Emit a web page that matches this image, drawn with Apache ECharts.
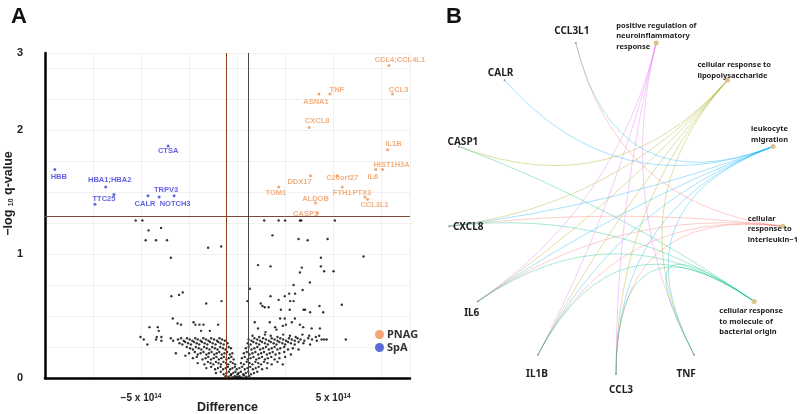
<!DOCTYPE html>
<html>
<head>
<meta charset="utf-8">
<title>Volcano + gene-concept network</title>
<script src="https://cdn.jsdelivr.net/npm/echarts@6/dist/echarts.min.js"></script>
<style>
  html, body { margin: 0; padding: 0; background: #fff; }
  #main { width: 800px; height: 414px; }
</style>
</head>
<body>
<div id="main"></div>
<script>
  // ---- panel A : volcano (difference in units of 1e14, -log10 q) ----
  const pnagGenes = ['CCL4;CCL4L1', 'TNF', 'ASNA1', 'CCL3', 'CXCL8', 'IL1B', 'IL6', 'HIST1H3A',
    'DDX17', 'C20orf27', 'TOM1', 'FTH1', 'PTX3', 'CCL3L1', 'ALDOB', 'CASP1']
  const pnagX = [7.9, 4.83, 4.26, 8.09, 3.75, 7.83, 7.22, 7.57, 3.82, 5.21, 2.17, 5.47, 6.65, 6.79, 4.08, 4.19]
  const pnagY = [2.52, 2.29, 2.29, 2.29, 2.02, 1.84, 1.68, 1.68, 1.63, 1.63, 1.54, 1.54, 1.46, 1.44, 1.41, 1.33]

  const spaGenes = ['CTSA', 'HBB', 'HBA1;HBA2', 'TTC25', '', 'CALR', 'TRPV3', 'NOTCH3']
  const spaX = [-3.59, -9.49, -6.84, -7.4, -6.41, -4.64, -4.06, -3.28]
  const spaY = [1.87, 1.68, 1.54, 1.4, 1.48, 1.47, 1.46, 1.47]

  const qThreshold = 1.3
  const diffThreshold = 0.56

  // non-significant genes
  const otherPoints = [
    [-5.28, 1.27], [-4.93, 1.27], [-4.61, 1.19], [-3.96, 1.21], [-4.76, 1.11], [-4.22, 1.11], [-3.65, 1.11],
    [-1.51, 1.05], [-0.83, 1.06], [-3.45, 0.97], [-3.42, 0.66], [-3.02, 0.67], [-2.83, 0.69], [-1.61, 0.6],
    [-0.81, 0.62], [-3.35, 0.48], [-3.1, 0.44], [-2.92, 0.43], [-2.27, 0.45], [-2.17, 0.43], [-1.96, 0.43],
    [-1.75, 0.43], [-0.99, 0.43], [-4.56, 0.41], [-4.13, 0.41], [-4.08, 0.38], [-1.88, 0.38], [-1.42, 0.38],
    [-5.03, 0.33], [-4.86, 0.31], [-4.67, 0.27], [-4.18, 0.33], [-3.94, 0.33], [-4.22, 0.31], [-3.94, 0.3],
    [-3.45, 0.32], [-3.33, 0.3], [-3.19, 0.2], [-2.69, 0.18],
    [1.41, 1.27], [2.16, 1.27], [2.5, 1.27], [3.27, 1.27], [3.34, 1.27], [5.09, 1.27], [1.84, 1.15],
    [3.2, 1.12], [3.67, 1.11], [4.71, 1.12], [6.58, 0.98], [4.36, 0.97], [1.09, 0.91], [1.74, 0.9],
    [3.37, 0.89], [4.36, 0.9], [4.53, 0.86], [5.02, 0.86], [3.27, 0.85], [3.79, 0.77], [2.94, 0.75],
    [0.66, 0.72], [3.02, 0.68], [3.41, 0.71], [1.74, 0.66], [2.16, 0.63], [2.48, 0.66], [2.71, 0.68],
    [2.76, 0.62], [2.94, 0.62], [0.54, 0.62], [1.23, 0.6], [1.32, 0.58], [1.44, 0.57], [1.64, 0.57],
    [4.29, 0.58], [5.45, 0.59], [2.28, 0.55], [2.74, 0.55], [3.46, 0.55], [3.54, 0.55], [4.48, 0.53],
    [3.8, 0.53], [0.92, 0.45], [1.7, 0.45], [2.24, 0.48], [2.48, 0.48], [3.01, 0.48], [2.85, 0.45],
    [1.09, 0.4], [1.48, 0.37], [1.98, 0.41], [2.05, 0.39], [2.38, 0.42], [2.54, 0.43], [3.27, 0.43],
    [3.44, 0.41], [3.88, 0.4], [4.31, 0.4], [4.27, 0.34], [4.53, 0.31], [4.66, 0.31], [5.66, 0.31], [2.38, 0.11],
    // left cloud
    [-3.08, 0.31], [-2.92, 0.32], [-2.78, 0.3], [-2.61, 0.32], [-2.47, 0.31], [-2.33, 0.3], [-2.18, 0.32],
    [-2.05, 0.31], [-1.9, 0.3], [-1.76, 0.32], [-1.62, 0.31], [-1.49, 0.3], [-1.35, 0.32], [-1.2, 0.31],
    [-1.05, 0.3], [-0.92, 0.32], [-0.78, 0.31], [-0.64, 0.3],
    [-3.0, 0.28], [-2.85, 0.27], [-2.7, 0.29], [-2.55, 0.28], [-2.4, 0.27], [-2.24, 0.29], [-2.1, 0.28],
    [-1.97, 0.27], [-1.83, 0.29], [-1.69, 0.28], [-1.55, 0.27], [-1.41, 0.29], [-1.27, 0.28], [-1.12, 0.27],
    [-0.98, 0.29], [-0.85, 0.28], [-0.7, 0.27], [-0.5, 0.28],
    [-2.62, 0.25], [-2.45, 0.24], [-2.3, 0.23], [-2.15, 0.25], [-2.0, 0.24], [-1.86, 0.23], [-1.72, 0.25],
    [-1.58, 0.24], [-1.44, 0.23], [-1.3, 0.25], [-1.16, 0.24], [-1.02, 0.23], [-0.88, 0.25], [-0.74, 0.24],
    [-0.6, 0.23], [-0.44, 0.25], [-0.32, 0.24],
    [-2.5, 0.2], [-2.2, 0.21], [-2.05, 0.19], [-1.9, 0.2], [-1.75, 0.21], [-1.6, 0.19], [-1.47, 0.2],
    [-1.33, 0.21], [-1.19, 0.19], [-1.06, 0.2], [-0.93, 0.21], [-0.8, 0.19], [-0.66, 0.2], [-0.52, 0.21],
    [-0.38, 0.19], [-0.25, 0.2],
    [-2.3, 0.16], [-2.1, 0.17], [-1.8, 0.15], [-1.64, 0.16], [-1.5, 0.17], [-1.36, 0.15], [-1.22, 0.16],
    [-1.08, 0.17], [-0.95, 0.15], [-0.82, 0.16], [-0.69, 0.17], [-0.56, 0.15], [-0.43, 0.16], [-0.3, 0.17],
    [-0.18, 0.15],
    [-2.05, 0.12], [-1.7, 0.11], [-1.52, 0.13], [-1.38, 0.12], [-1.24, 0.11], [-1.1, 0.13], [-0.97, 0.12],
    [-0.84, 0.11], [-0.71, 0.13], [-0.58, 0.12], [-0.46, 0.11], [-0.34, 0.13], [-0.22, 0.12], [-0.1, 0.11],
    [-1.6, 0.08], [-1.35, 0.09], [-1.15, 0.07], [-1.0, 0.08], [-0.86, 0.09], [-0.73, 0.07], [-0.6, 0.08],
    [-0.48, 0.09], [-0.36, 0.07], [-0.24, 0.08], [-0.12, 0.09], [-0.02, 0.07],
    [-1.1, 0.04], [-0.85, 0.05], [-0.7, 0.03], [-0.56, 0.04], [-0.43, 0.05], [-0.31, 0.03], [-0.2, 0.04],
    [-0.09, 0.05], [0.02, 0.03],
    [-0.6, 0.015], [-0.45, 0.01], [-0.33, 0.02], [-0.22, 0.005], [-0.12, 0.015], [-0.03, 0.01], [0.06, 0.005],
    // right cloud
    [0.8, 0.34], [1.15, 0.33], [1.45, 0.35], [1.75, 0.34], [2.1, 0.33], [2.4, 0.35], [2.75, 0.34],
    [3.05, 0.33], [3.4, 0.35], [3.75, 0.34], [4.1, 0.33],
    [0.6, 0.31], [0.75, 0.3], [0.9, 0.32], [1.05, 0.31], [1.2, 0.3], [1.35, 0.32], [1.5, 0.31], [1.65, 0.3],
    [1.8, 0.32], [1.95, 0.31], [2.1, 0.3], [2.25, 0.32], [2.4, 0.31], [2.55, 0.3], [2.7, 0.32], [2.85, 0.31],
    [3.0, 0.3], [3.15, 0.32], [3.3, 0.31], [3.5, 0.3], [3.7, 0.32], [3.9, 0.31], [4.15, 0.3], [4.4, 0.31],
    [0.55, 0.28], [0.7, 0.27], [0.85, 0.29], [1.0, 0.28], [1.15, 0.27], [1.3, 0.29], [1.45, 0.28], [1.6, 0.27],
    [1.75, 0.29], [1.9, 0.28], [2.05, 0.27], [2.2, 0.29], [2.35, 0.28], [2.5, 0.27], [2.65, 0.29], [2.8, 0.28],
    [3.0, 0.27], [3.2, 0.29], [3.45, 0.28], [3.8, 0.27],
    [0.45, 0.24], [0.6, 0.25], [0.75, 0.23], [0.9, 0.24], [1.05, 0.25], [1.2, 0.23], [1.35, 0.24], [1.5, 0.25],
    [1.65, 0.23], [1.8, 0.24], [1.95, 0.25], [2.1, 0.23], [2.25, 0.24], [2.45, 0.25], [2.65, 0.23], [2.9, 0.24],
    [3.2, 0.23],
    [0.35, 0.2], [0.5, 0.21], [0.65, 0.19], [0.8, 0.2], [0.95, 0.21], [1.1, 0.19], [1.25, 0.2], [1.4, 0.21],
    [1.55, 0.19], [1.7, 0.2], [1.85, 0.21], [2.0, 0.19], [2.2, 0.2], [2.45, 0.21], [2.8, 0.19],
    [0.25, 0.16], [0.4, 0.17], [0.55, 0.15], [0.7, 0.16], [0.85, 0.17], [1.0, 0.15], [1.15, 0.16], [1.3, 0.17],
    [1.45, 0.15], [1.6, 0.16], [1.78, 0.17], [1.95, 0.15], [2.2, 0.16], [2.5, 0.17],
    [0.2, 0.12], [0.35, 0.11], [0.5, 0.13], [0.65, 0.12], [0.8, 0.11], [0.95, 0.13], [1.1, 0.12], [1.25, 0.11],
    [1.4, 0.13], [1.58, 0.12], [1.8, 0.11], [2.1, 0.13],
    [0.12, 0.08], [0.26, 0.09], [0.4, 0.07], [0.54, 0.08], [0.68, 0.09], [0.82, 0.07], [0.97, 0.08],
    [1.12, 0.09], [1.3, 0.07], [1.55, 0.08],
    [0.08, 0.04], [0.2, 0.05], [0.32, 0.03], [0.45, 0.04], [0.58, 0.05], [0.72, 0.03], [0.88, 0.04], [1.05, 0.05],
    [0.12, 0.015], [0.22, 0.005], [0.35, 0.02], [0.48, 0.01], [0.62, 0.015]
  ]

  // ---- panel B : gene-concept network ----
  const terms = [
    'positive regulation of neuroinflammatory response',
    'cellular response to lipopolysaccharide',
    'leukocyte migration',
    'cellular response to interleukin−1',
    'cellular response to molecule of bacterial origin'
  ]
  const genes = ['TNF', 'CCL3', 'IL1B', 'IL6', 'CXCL8', 'CASP1', 'CALR', 'CCL3L1']
  const neuroGenes = ['TNF', 'CCL3', 'IL1B', 'IL6']
  const lpsGenes = ['TNF', 'CCL3', 'IL1B', 'IL6', 'CXCL8', 'CASP1']
  const leukGenes = ['TNF', 'CCL3', 'IL1B', 'IL6', 'CXCL8', 'CALR', 'CCL3L1']
  const il1Genes = ['CCL3', 'IL1B', 'IL6', 'CXCL8', 'CCL3L1']
  const bactGenes = ['TNF', 'CCL3', 'IL1B', 'IL6', 'CXCL8', 'CASP1']
  const termGeneSets = [neuroGenes, lpsGenes, leukGenes, il1Genes, bactGenes]

  // styles
  const termColors = ['#E76BF3', '#A3A500', '#00B0F6', '#F8766D', '#00BF7D']
  const termText = [
    'positive regulation of\nneuroinflammatory\nresponse',
    'cellular response to\nlipopolysaccharide',
    'leukocyte\nmigration',
    'cellular\nresponse to\ninterleukin−1',
    'cellular response\nto molecule of\nbacterial origin'
  ]
  const termOffsets = [[-40, -7], [-30, -10], [-22, -12], [-35, 3], [-35, 20]]
  const geneOffsets = {
    TNF: [-8, 19], CCL3: [5, 16], IL1B: [-1, 19], IL6: [-6, 12],
    CXCL8: [19, 1], CASP1: [4, -4], CALR: [-4, -7], CCL3L1: [-4, -12]
  }
  const pnagOffsets = {
    'CCL4;CCL4L1': [11, -5], TNF: [7, -4], ASNA1: [-3, 8], CCL3: [6, -4], CXCL8: [8, -6],
    IL1B: [6, -6], IL6: [-3, 7], HIST1H3A: [9, -5], DDX17: [-11, 6], C20orf27: [5, 2],
    TOM1: [-3, 6], FTH1: [0, 6], PTX3: [-3, -4], CCL3L1: [7, 6], ALDOB: [0, -4], CASP1: [-12, 1]
  }
  const spaOffsets = {
    CTSA: [0, 5], HBB: [4, 7], 'HBA1;HBA2': [4, -7], TTC25: [9, -5], CALR: [-3, 8],
    TRPV3: [7, -7], NOTCH3: [1, 8]
  }

  const ringOrder = terms.concat(genes)   // clockwise from the top
  const n = ringOrder.length
  const arcPull = 1   // 1 = control point of every edge at the ring centre

  const nodes = ringOrder.map((name, i) => {
    const isTerm = i < terms.length
    return {
      name: name,
      value: [1, i],
      symbolSize: isTerm ? 5 : 2,
      itemStyle: { color: isTerm ? '#DCC28E' : '#9a9a9a' },
      label: isTerm ? {
        show: true, position: 'inside', align: 'left', verticalAlign: 'middle',
        formatter: termText[i], offset: termOffsets[i],
        fontSize: 7.5, lineHeight: 10.5, fontWeight: 'bold', color: '#1e1e1e', fontFamily: 'Noto Sans'
      } : {
        show: true, position: 'inside', offset: geneOffsets[name],
        fontSize: 10, fontWeight: 'bold', color: '#1e1e1e', fontFamily: 'Noto Sans'
      }
    }
  })

  const links = []
  termGeneSets.forEach((set, t) => {
    set.forEach((g) => {
      const si = ringOrder.indexOf(g)
      const theta = (((t - si) % n + n) % n) * 2 * Math.PI / n
      links.push({
        source: g,
        target: terms[t],
        lineStyle: { color: termColors[t], curveness: -arcPull / (2 * Math.tan(theta / 2)) }
      })
    })
  })

  const chart = echarts.init(document.getElementById('main'))
  chart.setOption({
    animation: false,
    backgroundColor: '#fff',
    graphic: [
      { type: 'text', left: 11, top: 6, style: { text: 'A', font: 'bold 22px "Liberation Sans"', fill: '#111' } },
      { type: 'text', left: 446, top: 6, style: { text: 'B', font: 'bold 22px "Liberation Sans"', fill: '#111' } }
    ],
    legend: {
      data: ['PNAG', 'SpA'],
      orient: 'vertical',
      left: 370,
      top: 323,
      itemGap: 0,
      itemWidth: 9,
      itemHeight: 9,
      icon: 'circle',
      textStyle: { fontSize: 11, fontWeight: 'bold', color: '#333', fontFamily: 'Noto Sans', lineHeight: 13, padding: [0, 0, 0, -2] }
    },
    grid: { left: 45, right: 390, top: 53, bottom: 36, outerBoundsMode: 'none' },
    xAxis: {
      type: 'value',
      min: -10,
      max: 9,
      interval: 2.5,
      axisLine: { onZero: false, lineStyle: { color: '#000', width: 2.5 } },
      axisTick: { show: false },
      splitLine: { lineStyle: { color: '#ececec', width: 0.8 } },
      axisLabel: {
        margin: 15,
        formatter: (v) => (v === -5 ? '{b|−5 x 10}{s|14}' : v === 5 ? '{b|5 x 10}{s|14}' : ''),
        rich: {
          b: { fontSize: 10, fontWeight: 'bold', color: '#222', fontFamily: 'Liberation Sans' },
          s: { fontSize: 6.5, fontWeight: 'bold', color: '#222', fontFamily: 'Liberation Sans', verticalAlign: 'top' }
        }
      },
      name: 'Difference',
      nameLocation: 'middle',
      nameGap: 23,
      nameMoveOverlap: false,
      nameTextStyle: { fontSize: 12.5, fontWeight: 'bold', color: '#222', fontFamily: 'Liberation Sans' }
    },
    yAxis: {
      type: 'value',
      min: 0,
      max: 2.62,
      interval: 0.25,
      axisLine: { show: true, onZero: false, lineStyle: { color: '#000', width: 2.5 } },
      axisTick: { show: false },
      splitLine: { lineStyle: { color: '#ececec', width: 0.8 } },
      axisLabel: {
        margin: 22,
        formatter: (v) => (v === 0 || v === 1 || v === 2 ? String(v) : v > 2.6 ? '3' : ''),
        fontSize: 11,
        fontWeight: 'bold',
        color: '#222',
        fontFamily: 'Liberation Sans'
      },
      name: '{b|−log }{s|10}{b| q-value}',
      nameLocation: 'middle',
      nameRotate: 90,
      nameGap: 30,
      nameMoveOverlap: false,
      nameTextStyle: {
        padding: [0, 0, 0, 44],
        rich: {
          b: { fontSize: 12.5, fontWeight: 'bold', color: '#222', fontFamily: 'Liberation Sans' },
          s: { fontSize: 7, fontWeight: 'bold', color: '#222', fontFamily: 'Liberation Sans', verticalAlign: 'bottom' }
        }
      }
    },
    polar: { center: [616, 206], radius: 168 },
    angleAxis: { type: 'category', data: ringOrder, startAngle: 90, clockwise: true, show: false },
    radiusAxis: { type: 'value', min: 0, max: 1, show: false },
    series: [
      {
        name: 'other',
        type: 'scatter',
        data: otherPoints,
        symbolSize: 2.4,
        itemStyle: { color: '#000' },
        silent: true,
        markLine: {
          silent: true,
          symbol: 'none',
          label: { show: false },
          lineStyle: { type: 'solid', width: 1 },
          data: [
            { yAxis: qThreshold, lineStyle: { color: '#7a4a35' } },
            { xAxis: -diffThreshold, lineStyle: { color: '#8a3f10' } },
            { xAxis: diffThreshold, lineStyle: { color: '#4a4a4a' } }
          ]
        }
      },
      {
        name: 'PNAG',
        type: 'scatter',
        symbolSize: 3,
        itemStyle: { color: '#F08E50' },
        data: pnagGenes.map((g, i) => ({ name: g, value: [pnagX[i], pnagY[i]], label: { offset: pnagOffsets[g] } })),
        label: {
          show: true, position: 'inside', formatter: '{b}',
          fontSize: 7.5, fontWeight: 'bold', color: '#F29A5E', fontFamily: 'Liberation Sans'
        },
        z: 3
      },
      {
        name: 'SpA',
        type: 'scatter',
        symbolSize: 3,
        itemStyle: { color: '#3347D0' },
        data: spaGenes.map((g, i) => ({ name: g, value: [spaX[i], spaY[i]], label: { offset: spaOffsets[g] || [0, 0] } })),
        label: {
          show: true, position: 'inside', formatter: '{b}',
          fontSize: 7.5, fontWeight: 'bold', color: '#3838E0', fontFamily: 'Liberation Sans'
        },
        z: 3
      },
      {
        name: 'network',
        type: 'graph',
        coordinateSystem: 'polar',
        polarIndex: 0,
        data: nodes,
        links: links,
        edgeSymbol: ['none', 'none'],
        lineStyle: { width: 0.7, opacity: 0.5 },
        emphasis: { disabled: true },
        silent: true,
        z: 2
      }
    ]
  })
</script>
</body>
</html>
